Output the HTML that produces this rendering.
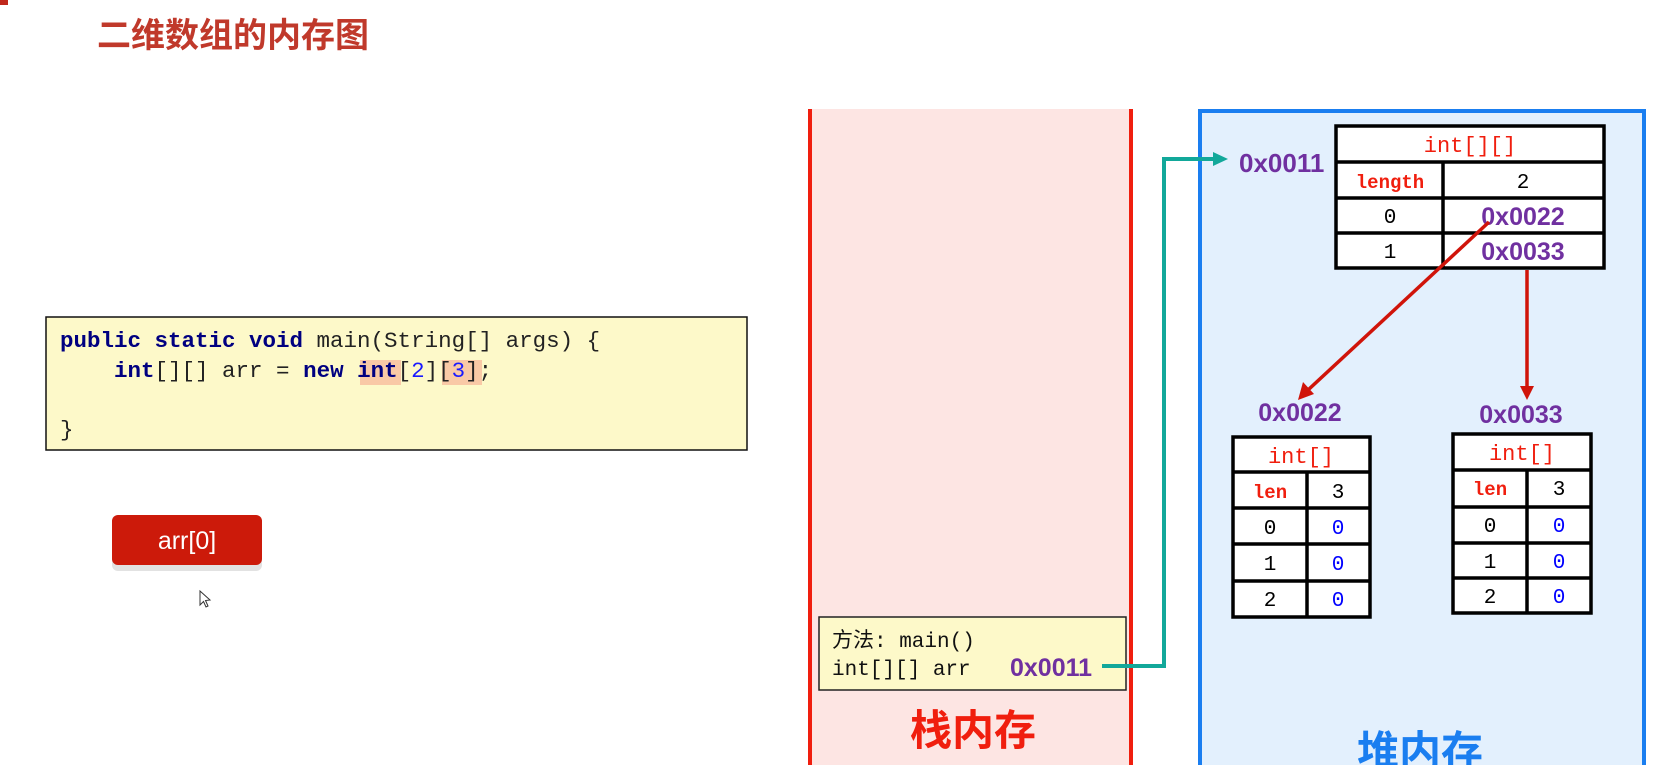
<!DOCTYPE html>
<html><head><meta charset="utf-8"><style>
html,body{margin:0;padding:0;background:#fff;}
svg{display:block;}
.m{font-family:"Liberation Mono","Noto Sans CJK SC",monospace;}
.s{font-family:"Liberation Sans","Noto Sans CJK SC",sans-serif;}
</style></head><body>
<svg width="1656" height="765" viewBox="0 0 1656 765" xmlns="http://www.w3.org/2000/svg">
<rect x="0" y="0" width="1656" height="765" fill="#fff"/>
<rect x="0" y="0" width="8" height="5" fill="#c0281c"/>
<text x="97" y="47" class="s" font-size="34" font-weight="bold" fill="#c0392b">二维数组的内存图</text>

<!-- code box -->
<rect x="46" y="317" width="701" height="133" fill="#fdf9c9" stroke="#111" stroke-width="1.5"/>
<rect x="360" y="360" width="41" height="25" fill="#f9c9a6"/>
<rect x="442" y="360" width="40" height="25" fill="#f9c9a6"/>
<text class="m" font-size="22.5" xml:space="preserve" fill="#222"><tspan x="60" y="347"><tspan fill="#000080" font-weight="bold">public static void</tspan> main(String[] args) {</tspan><tspan x="60" y="377">    <tspan fill="#000080" font-weight="bold">int</tspan>[][] arr = <tspan fill="#000080" font-weight="bold">new</tspan> <tspan fill="#000080" font-weight="bold">int</tspan>[<tspan fill="#1a1aff">2</tspan>][<tspan fill="#1a1aff">3</tspan>];</tspan><tspan x="60" y="436">}</tspan></text>

<!-- button -->
<rect x="112" y="521" width="150" height="50" rx="6" fill="#e2e2e2"/>
<rect x="112" y="515" width="150" height="50" rx="6" fill="#cc1a0a"/>
<text x="187" y="549" text-anchor="middle" class="s" font-size="25" fill="#fff">arr[0]</text>
<path d="M200 591 L200 605 L203.5 601.5 L206 607 L208 606 L205.5 600.5 L210 600 Z" fill="#fff" stroke="#333" stroke-width="1"/>

<!-- stack -->
<rect x="810" y="109" width="322" height="660" fill="#fde5e3"/>
<line x1="810" y1="109" x2="810" y2="765" stroke="#f01e0e" stroke-width="4"/>
<line x1="1131" y1="109" x2="1131" y2="765" stroke="#f01e0e" stroke-width="4"/>
<rect x="819" y="617" width="307" height="73" fill="#fdf9c9" stroke="#222" stroke-width="1.5"/>
<text class="m" font-size="21" fill="#111"><tspan x="832" y="647">方法: main()</tspan><tspan x="832" y="675">int[][] arr</tspan></text>
<text x="1010" y="676" class="s" font-size="25" font-weight="bold" fill="#7030a0">0x0011</text>
<text x="973" y="745" text-anchor="middle" class="s" font-size="42" font-weight="bold" fill="#f01e0e">栈内存</text>

<!-- heap -->
<rect x="1200" y="111" width="444" height="660" fill="#e3f0fd" stroke="#1a7ef0" stroke-width="4"/>
<text x="1420" y="766" text-anchor="middle" class="s" font-size="42" font-weight="bold" fill="#1a7ef0">堆内存</text>

<!-- teal connector -->
<polyline points="1102,666 1164,666 1164,159 1215,159" fill="none" stroke="#12a89a" stroke-width="4"/>
<polygon points="1228,159 1213,152 1213,166" fill="#12a89a"/>
<text x="1239" y="172" class="s" font-size="26" font-weight="bold" fill="#7030a0">0x0011</text>

<!-- main table -->
<g stroke="#000" stroke-width="3.5" fill="#fff">
<rect x="1336" y="126" width="268" height="142"/>
<line x1="1336" y1="162" x2="1604" y2="162"/>
<line x1="1336" y1="198" x2="1604" y2="198"/>
<line x1="1336" y1="233" x2="1604" y2="233"/>
<line x1="1443" y1="162" x2="1443" y2="268"/>
</g>
<g class="m" text-anchor="middle">
<text x="1470" y="152" font-size="22" fill="#f01e0e">int[][]</text>
<text x="1390" y="188" font-size="19" font-weight="bold" fill="#f01e0e">length</text>
<text x="1523" y="188" font-size="21" fill="#000">2</text>
<text x="1390" y="223" font-size="21" fill="#000">0</text>
<text x="1390" y="258" font-size="21" fill="#000">1</text>
</g>
<text x="1523" y="225" text-anchor="middle" class="s" font-size="25" font-weight="bold" fill="#7030a0">0x0022</text>
<text x="1523" y="260" text-anchor="middle" class="s" font-size="25" font-weight="bold" fill="#7030a0">0x0033</text>

<!-- red arrows -->
<line x1="1489" y1="222" x2="1308" y2="390" stroke="#d0140a" stroke-width="3.5"/>
<polygon points="1298,400 1303,382 1314,394" fill="#d0140a"/>
<line x1="1527" y1="270" x2="1527" y2="388" stroke="#d0140a" stroke-width="3.5"/>
<polygon points="1527,400 1520,386 1534,386" fill="#d0140a"/>

<text x="1300" y="421" text-anchor="middle" class="s" font-size="25" font-weight="bold" fill="#7030a0">0x0022</text>
<text x="1521" y="423" text-anchor="middle" class="s" font-size="25" font-weight="bold" fill="#7030a0">0x0033</text>

<!-- small table 1 -->
<g stroke="#000" stroke-width="3.5" fill="#fff">
<rect x="1233" y="437" width="137" height="180"/>
<line x1="1233" y1="472" x2="1370" y2="472"/>
<line x1="1233" y1="508" x2="1370" y2="508"/>
<line x1="1233" y1="544" x2="1370" y2="544"/>
<line x1="1233" y1="581" x2="1370" y2="581"/>
<line x1="1307" y1="472" x2="1307" y2="617"/>
</g>
<g class="m" text-anchor="middle" font-size="21">
<text x="1301" y="463" font-size="22" fill="#f01e0e">int[]</text>
<text x="1270" y="498" font-size="19" font-weight="bold" fill="#f01e0e">len</text>
<text x="1338" y="498" fill="#000">3</text>
<text x="1270" y="534" fill="#000">0</text><text x="1338" y="534" fill="#0000ff">0</text>
<text x="1270" y="570" fill="#000">1</text><text x="1338" y="570" fill="#0000ff">0</text>
<text x="1270" y="606" fill="#000">2</text><text x="1338" y="606" fill="#0000ff">0</text>
</g>

<!-- small table 2 -->
<g stroke="#000" stroke-width="3.5" fill="#fff">
<rect x="1453" y="434" width="138" height="179"/>
<line x1="1453" y1="470" x2="1591" y2="470"/>
<line x1="1453" y1="507" x2="1591" y2="507"/>
<line x1="1453" y1="543" x2="1591" y2="543"/>
<line x1="1453" y1="578" x2="1591" y2="578"/>
<line x1="1527" y1="470" x2="1527" y2="613"/>
</g>
<g class="m" text-anchor="middle" font-size="21">
<text x="1522" y="460" font-size="22" fill="#f01e0e">int[]</text>
<text x="1490" y="495" font-size="19" font-weight="bold" fill="#f01e0e">len</text>
<text x="1559" y="495" fill="#000">3</text>
<text x="1490" y="532" fill="#000">0</text><text x="1559" y="532" fill="#0000ff">0</text>
<text x="1490" y="568" fill="#000">1</text><text x="1559" y="568" fill="#0000ff">0</text>
<text x="1490" y="603" fill="#000">2</text><text x="1559" y="603" fill="#0000ff">0</text>
</g>
</svg>
</body></html>
